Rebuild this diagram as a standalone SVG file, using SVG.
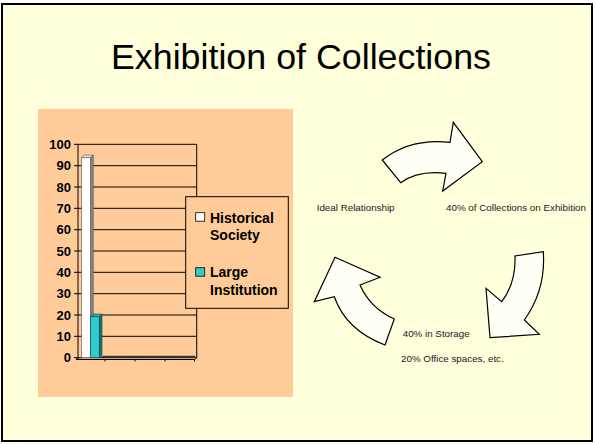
<svg xmlns="http://www.w3.org/2000/svg" width="595" height="445" viewBox="0 0 595 445">
<style>
.t{font-family:"Liberation Sans",Arial,sans-serif;fill:#000}
.ax{font-family:"Liberation Sans",Arial,sans-serif;font-weight:bold;font-size:13px;text-anchor:end}
.lg{font-family:"Liberation Sans",Arial,sans-serif;font-weight:bold;font-size:14px}
.lb{font-family:"Liberation Sans",Arial,sans-serif;font-size:9.8px;fill:#1a1a1a}
.grid{stroke:#000;stroke-width:1;fill:none}
.arr{fill:#FFFFF5;stroke:#000;stroke-width:1.2;stroke-linejoin:miter}
</style>
<rect x="0" y="0" width="595" height="445" fill="#FFFFFF"/>
<rect x="2" y="4" width="590" height="437" fill="#FFFFDC" stroke="#000" stroke-width="2"/>
<text class="t" x="301" y="69" font-size="35.8" text-anchor="middle">Exhibition of Collections</text>

<g id="chart">
<rect x="38" y="109" width="255" height="288" fill="#FFCC99"/>
<g class="grid">
<path d="M78 144.3H196.7M78 165.7H196.7M78 187H196.7M78 208.3H196.7M78 229.7H196.7M78 251H196.7M78 272.3H196.7M78 293.7H196.7M78 315H196.7M78 336.3H196.7"/>
<path d="M196.7 144.3V357.7"/>
<path d="M78 144.3V359.5M74 144.3H78M74 165.7H78M74 187H78M74 208.3H78M74 229.7H78M74 251H78M74 272.3H78M74 293.7H78M74 315H78M74 336.3H78M74 357.7H78"/>
<path d="M76 359.5L78 357.7H196.7M76 359.5H195L196.7 357.7M105 359.5V361.5M135 359.5V361.5M165 359.5V361.5M194.5 359.5V361.5"/>
</g>
<g class="ax">
<text x="71" y="149">100</text>
<text x="71" y="170.2">90</text>
<text x="71" y="191.5">80</text>
<text x="71" y="212.8">70</text>
<text x="71" y="234.2">60</text>
<text x="71" y="255.5">50</text>
<text x="71" y="276.8">40</text>
<text x="71" y="298.2">30</text>
<text x="71" y="319.5">20</text>
<text x="71" y="340.8">10</text>
<text x="71" y="362.2">0</text>
</g>
<rect x="101.7" y="355.8" width="93.5" height="2" fill="#333"/>
<g id="bar-historical">
<rect x="81.7" y="157.7" width="9" height="200" fill="#FFFFFF" stroke="#555" stroke-width="0.6"/>
<polygon points="81.7,157.7 84.3,155 93.3,155 90.7,157.7" fill="#DDDDDD" stroke="#555" stroke-width="0.6"/>
<polygon points="90.7,157.7 93.3,155 93.3,355 90.7,357.7" fill="#888888" stroke="#555" stroke-width="0.6"/>
</g>
<g id="bar-large">
<rect x="90.7" y="316.7" width="8.6" height="41" fill="#33CCCC" stroke="#145" stroke-width="0.6"/>
<polygon points="90.7,316.7 93.3,314 102,314 99.3,316.7" fill="#2AA8A8" stroke="#145" stroke-width="0.6"/>
<polygon points="99.3,316.7 102,314 102,355 99.3,357.7" fill="#1A7070" stroke="#145" stroke-width="0.6"/>
</g>
<g id="legend">
<rect x="185.7" y="196.7" width="102.6" height="111.6" fill="#FFCC99" stroke="#000" stroke-width="1"/>
<rect x="195.7" y="212.7" width="9" height="8.5" fill="#FFFFFF" stroke="#000" stroke-width="0.8"/>
<text class="lg" x="210" y="222.5">Historical</text>
<text class="lg" x="210" y="239.5">Society</text>
<rect x="195.7" y="267.7" width="9" height="8.5" fill="#33CCCC" stroke="#000" stroke-width="0.8"/>
<text class="lg" x="210" y="277">Large</text>
<text class="lg" x="210" y="295">Institution</text>
</g>
</g>

<g id="connectors">
<path id="arrow-top" class="arr" d="M400.7 182.7 Q418 170 446 173.3 L442.7 191 L482.3 161.7 L453.3 122.3 L450 142.3 Q410 138 382.3 160 Z"/>
<path id="arrow-right" class="arr" d="M515 256 Q516 283 501.7 301.7 L486 288.3 L490 337.7 L539.3 334.3 L524.3 320 Q546 290 543.3 251.7 Z"/>
<path id="arrow-left" class="arr" d="M385 345 Q346 330 334.3 296.7 L314.3 301.7 L335 257.3 L380 277.3 L360 285 Q370 308 394.3 319 Z"/>
</g>

<g id="labels">
<text class="lb" x="316.7" y="210.7">Ideal Relationship</text>
<text class="lb" x="446" y="210.7">40% of Collections on Exhibition</text>
<text class="lb" x="402.7" y="336.7">40% in Storage</text>
<text class="lb" x="401" y="361.7">20% Office spaces, etc.</text>
</g>
</svg>
